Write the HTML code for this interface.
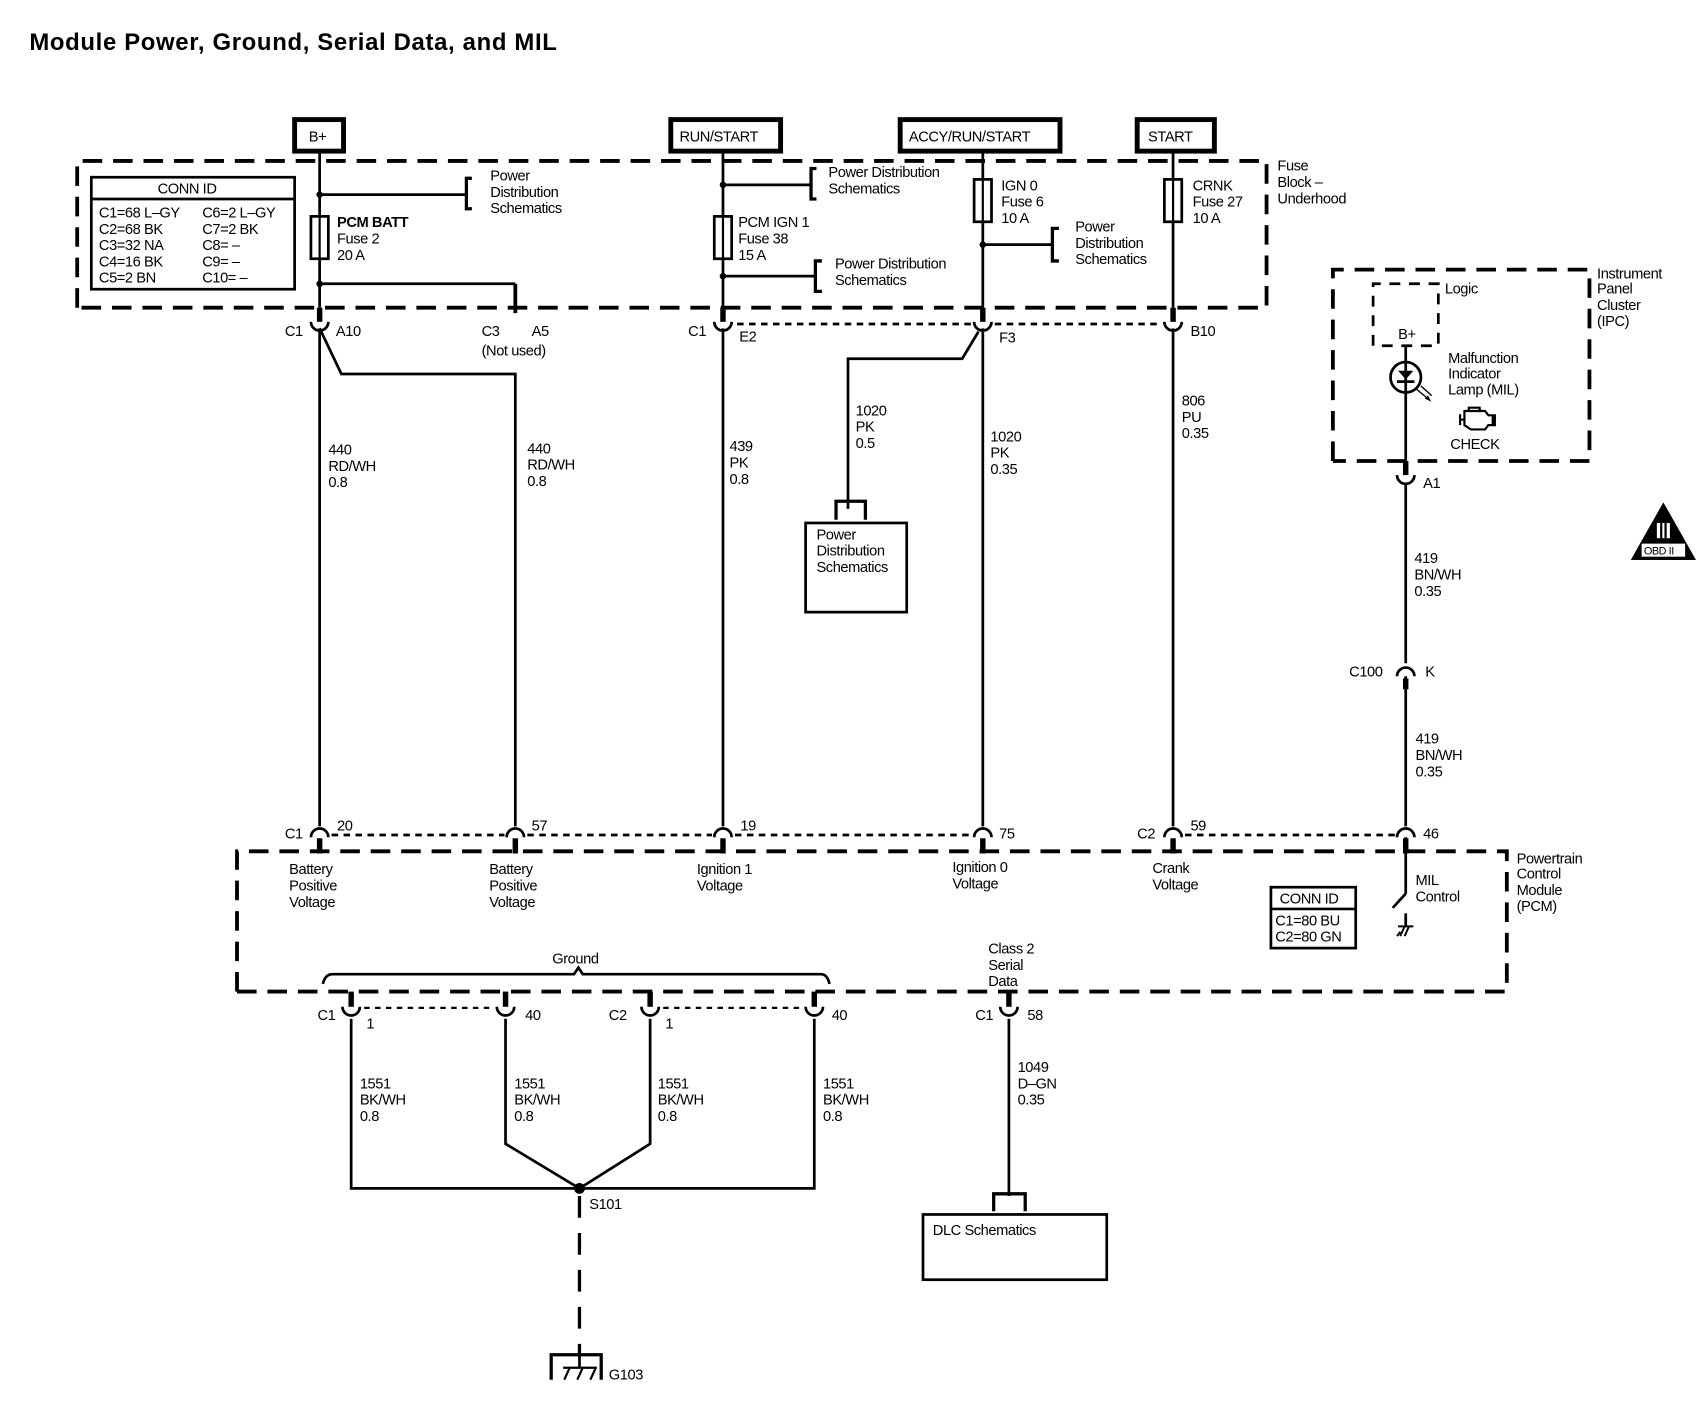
<!DOCTYPE html>
<html><head><meta charset="utf-8"><style>
html,body{margin:0;padding:0;background:#fff;}
svg{display:block}
text{font-family:"Liberation Sans",sans-serif;font-size:13.5px;fill:#000;letter-spacing:-0.4px}
.b{font-weight:bold}
</style></head><body>
<svg width="1696" height="1408" viewBox="0 0 1560 1295" preserveAspectRatio="none" xmlns="http://www.w3.org/2000/svg">
<text x="27" y="46" class="b" style="font-size:22px;letter-spacing:0.6px">Module Power, Ground, Serial Data, and MIL</text>

<g fill="#fff" stroke="#000" stroke-width="4.5">
<rect x="271" y="110" width="45" height="29"/>
<rect x="617" y="110" width="101" height="29"/>
<rect x="828" y="110" width="147" height="29"/>
<rect x="1046" y="110" width="71" height="29"/>
</g>
<text x="284" y="130">B+</text>
<text x="625" y="130">RUN/START</text>
<text x="836" y="130">ACCY/RUN/START</text>
<text x="1056" y="130">START</text>

<g fill="none" stroke="#000" stroke-width="3.5" stroke-dasharray="18,10">
<path d="M71,283 V148 H1165 V283 H71"/>
<path d="M1226,424 V248 H1462 V424 H1226"/>
<path d="M1263,318 V261 H1323 V318 H1263" stroke-width="2.5" stroke-dasharray="10,8"/>
<path d="M218,912 V783 H1386 V912 H218"/>
<path d="M533,1100 V1245" stroke-width="3" stroke-dasharray="20,14"/>
</g>
<text x="1175" y="157">Fuse</text>
<text x="1175" y="172">Block –</text>
<text x="1175" y="187">Underhood</text>

<rect x="84" y="163" width="187" height="103" fill="none" stroke="#000" stroke-width="2.5"/>
<line x1="84" y1="183" x2="271" y2="183" stroke="#000" stroke-width="2.5"/>
<text x="145" y="178">CONN ID</text>
<text x="91" y="200">C1=68 L–GY</text><text x="186" y="200">C6=2 L–GY</text>
<text x="91" y="215">C2=68 BK</text><text x="186" y="215">C7=2 BK</text>
<text x="91" y="230">C3=32 NA</text><text x="186" y="230">C8= –</text>
<text x="91" y="245">C4=16 BK</text><text x="186" y="245">C9= –</text>
<text x="91" y="260">C5=2 BN</text><text x="186" y="260">C10= –</text>

<g fill="none" stroke="#000" stroke-width="2.5">
<line x1="294" y1="140" x2="294" y2="283"/>
<line x1="294" y1="179" x2="429" y2="179"/>
<path d="M434,164 H429 V192 H434" stroke-width="3"/>
<line x1="294" y1="261" x2="474" y2="261"/>
<line x1="474" y1="261" x2="474" y2="288" stroke-width="3.5"/>
<line x1="294" y1="302" x2="294" y2="760"/>
<path d="M294,302 L314,344 H474 V760"/>
<line x1="665" y1="140" x2="665" y2="283"/>
<line x1="665" y1="170" x2="746" y2="170"/>
<path d="M751,155 H746 V183 H751" stroke-width="3"/>
<line x1="665" y1="254" x2="750" y2="254"/>
<path d="M756,240 H750 V268 H756" stroke-width="3"/>
<line x1="665" y1="302" x2="665" y2="760"/>
<line x1="904" y1="140" x2="904" y2="283"/>
<line x1="904" y1="225" x2="968" y2="225"/>
<path d="M974,210 H968 V240 H974" stroke-width="3"/>
<line x1="904" y1="302" x2="904" y2="760"/>
<path d="M900,305 L885,330 H780 V468"/>
<path d="M769,478 V461 H796 V478" stroke-width="3"/>
<rect x="741" y="481" width="93" height="82"/>
<line x1="1079" y1="140" x2="1079" y2="283"/>
<line x1="1079" y1="302" x2="1079" y2="760"/>
<line x1="1293" y1="318" x2="1293" y2="430"/>
<line x1="1293" y1="445" x2="1293" y2="610"/>
<line x1="1293" y1="622" x2="1293" y2="760"/>
<line x1="1293" y1="770" x2="1293" y2="822"/>
<line x1="1293" y1="822" x2="1281" y2="835"/>
<line x1="1293" y1="840" x2="1293" y2="852"/>
<path d="M1286,852 H1300 M1288,857 L1285,861 M1292,852 L1288,861 M1296,852 L1292,861" stroke-width="1.8"/>
<path d="M323,937 V1093 H749 V937"/>
<path d="M465,937 V1052 L533,1093 L598,1052 V937"/>
<line x1="928" y1="937" x2="928" y2="1100"/>
<path d="M914,1114 V1098 H943 V1114" stroke-width="3"/>
<rect x="849" y="1117" width="169" height="60"/>
<line x1="533" y1="1245" x2="533" y2="1258"/>
<path d="M507,1269 V1246 H553 V1269" stroke-width="3"/>
<path d="M519,1269 L524,1258 M531,1269 L536,1258 M543,1269 L548,1258 M518,1258 H549" stroke-width="2"/>
<path d="M297,905 Q299,896 306,896 H528 L532,890 L536,896 H755 Q761,896 763,905"/>
</g>

<g fill="#fff" stroke="#000" stroke-width="2.5">
<rect x="286" y="199" width="16" height="39"/>
<rect x="657" y="199" width="16" height="39"/>
<rect x="896" y="165" width="16" height="39"/>
<rect x="1071" y="165" width="16" height="39"/>
</g>
<g stroke="#000" stroke-width="2"><line x1="294" y1="199" x2="294" y2="238"/><line x1="665" y1="199" x2="665" y2="238"/><line x1="904" y1="165" x2="904" y2="204"/><line x1="1079" y1="165" x2="1079" y2="204"/></g>
<g fill="#000"><circle cx="294" cy="179" r="3"/><circle cx="294" cy="261" r="3"/><circle cx="665" cy="170" r="3"/><circle cx="665" cy="254" r="3"/><circle cx="904" cy="225" r="3"/><circle cx="533" cy="1093" r="5"/></g>

<g fill="none" stroke="#000">
<g stroke-width="5"><line x1="294" y1="283" x2="294" y2="296"/><line x1="665" y1="283" x2="665" y2="296"/><line x1="904" y1="283" x2="904" y2="296"/><line x1="1079" y1="283" x2="1079" y2="296"/></g>
<g stroke-width="2.5">
<path d="M286,296 A8,8 0 0 0 302,296"/>
<path d="M657,296 A8,8 0 0 0 673,296"/>
<path d="M896,296 A8,8 0 0 0 912,296"/>
<path d="M1071,296 A8,8 0 0 0 1087,296"/>
</g>
<line x1="678" y1="298" x2="893" y2="298" stroke-width="2.5" stroke-dasharray="6,5"/>
<line x1="915" y1="298" x2="1068" y2="298" stroke-width="2.5" stroke-dasharray="6,5"/>
<line x1="1293" y1="424" x2="1293" y2="437" stroke-width="5"/>
<path d="M1285,437 A8,8 0 0 0 1301,437" stroke-width="2.5"/>
<path d="M1285,622 A8,8 0 0 1 1301,622" stroke-width="2.5"/>
<line x1="1293" y1="624" x2="1293" y2="634" stroke-width="5"/>
<g stroke-width="2.5">
<path d="M286,770 A8,8 0 0 1 302,770"/>
<path d="M466,770 A8,8 0 0 1 482,770"/>
<path d="M657,770 A8,8 0 0 1 673,770"/>
<path d="M896,770 A8,8 0 0 1 912,770"/>
<path d="M1071,770 A8,8 0 0 1 1087,770"/>
<path d="M1285,770 A8,8 0 0 1 1301,770"/>
</g>
<g stroke-width="5"><line x1="294" y1="771" x2="294" y2="785"/><line x1="474" y1="771" x2="474" y2="785"/><line x1="665" y1="771" x2="665" y2="785"/><line x1="904" y1="771" x2="904" y2="785"/><line x1="1079" y1="771" x2="1079" y2="785"/><line x1="1293" y1="771" x2="1293" y2="785"/></g>
<g stroke-width="2.5" stroke-dasharray="6,5">
<line x1="305" y1="768" x2="464" y2="768"/>
<line x1="485" y1="768" x2="655" y2="768"/>
<line x1="676" y1="768" x2="894" y2="768"/>
<line x1="1090" y1="768" x2="1283" y2="768"/>
</g>
<g stroke-width="5"><line x1="323" y1="912" x2="323" y2="926"/><line x1="465" y1="912" x2="465" y2="926"/><line x1="598" y1="912" x2="598" y2="926"/><line x1="749" y1="912" x2="749" y2="926"/><line x1="928" y1="912" x2="928" y2="926"/></g>
<g stroke-width="2.5">
<path d="M315,926 A8,8 0 0 0 331,926"/>
<path d="M457,926 A8,8 0 0 0 473,926"/>
<path d="M590,926 A8,8 0 0 0 606,926"/>
<path d="M741,926 A8,8 0 0 0 757,926"/>
<path d="M920,926 A8,8 0 0 0 936,926"/>
</g>
<line x1="335" y1="927" x2="455" y2="927" stroke-width="2" stroke-dasharray="5,5"/>
<line x1="610" y1="927" x2="739" y2="927" stroke-width="2" stroke-dasharray="5,5"/>
</g>

<circle cx="1293" cy="347" r="14" fill="#fff" stroke="#000" stroke-width="2.5"/>
<line x1="1293" y1="333" x2="1293" y2="361" stroke="#000" stroke-width="2.5"/>
<path d="M1286,341 H1300 L1293,349 Z" fill="#000"/>
<line x1="1285" y1="351" x2="1301" y2="351" stroke="#000" stroke-width="2.5"/>
<path d="M1303,358 L1315,368 M1307,355 L1317,364 M1311,366 L1315,368 L1313,364" stroke="#000" stroke-width="1.3" fill="none"/>
<path d="M1343,381 V391 M1343,386 H1347 M1347,378 H1366 L1369,382 H1373 V391 H1369 L1366,395 H1353 L1347,391 Z M1351,378 V375 H1361 V378 M1375,381 V392" stroke="#000" stroke-width="2" fill="none"/>

<path d="M1530,462 L1560,515 H1500 Z" fill="#000"/>
<rect x="1524" y="481" width="12" height="14" fill="#fff"/>
<rect x="1527" y="481" width="2" height="14" fill="#000"/><rect x="1531" y="481" width="2" height="14" fill="#000"/>
<rect x="1510" y="500" width="40" height="12" fill="#fff"/>
<text x="1512" y="510" style="font-size:10px">OBD II</text>

<rect x="1169" y="816" width="78" height="56" fill="none" stroke="#000" stroke-width="2.5"/>
<line x1="1169" y1="836" x2="1247" y2="836" stroke="#000" stroke-width="2.5"/>
<text x="1177" y="831">CONN ID</text>
<text x="1173" y="851">C1=80 BU</text>
<text x="1173" y="866">C2=80 GN</text>

<text x="451" y="166">Power</text><text x="451" y="181">Distribution</text><text x="451" y="196">Schematics</text>
<text x="310" y="209" class="b">PCM BATT</text><text x="310" y="224">Fuse 2</text><text x="310" y="239">20 A</text>
<text x="762" y="163">Power Distribution</text><text x="762" y="178">Schematics</text>
<text x="679" y="209">PCM IGN 1</text><text x="679" y="224">Fuse 38</text><text x="679" y="239">15 A</text>
<text x="768" y="247">Power Distribution</text><text x="768" y="262">Schematics</text>
<text x="921" y="175">IGN 0</text><text x="921" y="190">Fuse 6</text><text x="921" y="205">10 A</text>
<text x="989" y="213">Power</text><text x="989" y="228">Distribution</text><text x="989" y="243">Schematics</text>
<text x="1097" y="175">CRNK</text><text x="1097" y="190">Fuse 27</text><text x="1097" y="205">10 A</text>

<text x="262" y="309">C1</text><text x="309" y="309">A10</text>
<text x="443" y="309">C3</text><text x="489" y="309">A5</text><text x="443" y="327">(Not used)</text>
<text x="633" y="309">C1</text><text x="680" y="314">E2</text>
<text x="919" y="315">F3</text>
<text x="1095" y="309">B10</text>

<text x="302" y="418">440</text><text x="302" y="433">RD/WH</text><text x="302" y="448">0.8</text>
<text x="485" y="417">440</text><text x="485" y="432">RD/WH</text><text x="485" y="447">0.8</text>
<text x="671" y="415">439</text><text x="671" y="430">PK</text><text x="671" y="445">0.8</text>
<text x="787" y="382">1020</text><text x="787" y="397">PK</text><text x="787" y="412">0.5</text>
<text x="751" y="496">Power</text><text x="751" y="511">Distribution</text><text x="751" y="526">Schematics</text>
<text x="911" y="406">1020</text><text x="911" y="421">PK</text><text x="911" y="436">0.35</text>
<text x="1087" y="373">806</text><text x="1087" y="388">PU</text><text x="1087" y="403">0.35</text>

<text x="1469" y="256">Instrument</text><text x="1469" y="270">Panel</text><text x="1469" y="285">Cluster</text><text x="1469" y="300">(IPC)</text>
<text x="1329" y="270">Logic</text>
<text x="1286" y="312">B+</text>
<text x="1332" y="334">Malfunction</text><text x="1332" y="348">Indicator</text><text x="1332" y="363">Lamp (MIL)</text>
<text x="1334" y="413">CHECK</text>
<text x="1309" y="449">A1</text>
<text x="1301" y="518">419</text><text x="1301" y="533">BN/WH</text><text x="1301" y="548">0.35</text>
<text x="1241" y="622">C100</text><text x="1311" y="622">K</text>
<text x="1302" y="684">419</text><text x="1302" y="699">BN/WH</text><text x="1302" y="714">0.35</text>

<text x="262" y="771">C1</text><text x="310" y="764">20</text>
<text x="489" y="764">57</text>
<text x="681" y="764">19</text>
<text x="919" y="771">75</text>
<text x="1046" y="771">C2</text><text x="1095" y="764">59</text>
<text x="1309" y="771">46</text>

<text x="266" y="804">Battery</text><text x="266" y="819">Positive</text><text x="266" y="834">Voltage</text>
<text x="450" y="804">Battery</text><text x="450" y="819">Positive</text><text x="450" y="834">Voltage</text>
<text x="641" y="804">Ignition 1</text><text x="641" y="819">Voltage</text>
<text x="876" y="802">Ignition 0</text><text x="876" y="817">Voltage</text>
<text x="1060" y="803">Crank</text><text x="1060" y="818">Voltage</text>
<text x="1302" y="814">MIL</text><text x="1302" y="829">Control</text>
<text x="1395" y="794">Powertrain</text><text x="1395" y="808">Control</text><text x="1395" y="823">Module</text><text x="1395" y="838">(PCM)</text>
<text x="508" y="886">Ground</text>
<text x="909" y="877">Class 2</text><text x="909" y="892">Serial</text><text x="909" y="907">Data</text>

<text x="292" y="938">C1</text><text x="337" y="946">1</text>
<text x="483" y="938">40</text>
<text x="560" y="938">C2</text><text x="612" y="946">1</text>
<text x="765" y="938">40</text>
<text x="897" y="938">C1</text><text x="945" y="938">58</text>

<text x="331" y="1001">1551</text><text x="331" y="1016">BK/WH</text><text x="331" y="1031">0.8</text>
<text x="473" y="1001">1551</text><text x="473" y="1016">BK/WH</text><text x="473" y="1031">0.8</text>
<text x="605" y="1001">1551</text><text x="605" y="1016">BK/WH</text><text x="605" y="1031">0.8</text>
<text x="757" y="1001">1551</text><text x="757" y="1016">BK/WH</text><text x="757" y="1031">0.8</text>
<text x="936" y="986">1049</text><text x="936" y="1001">D–GN</text><text x="936" y="1016">0.35</text>
<text x="542" y="1112">S101</text>
<text x="858" y="1136">DLC Schematics</text>
<text x="560" y="1269">G103</text>
</svg>
</body></html>
